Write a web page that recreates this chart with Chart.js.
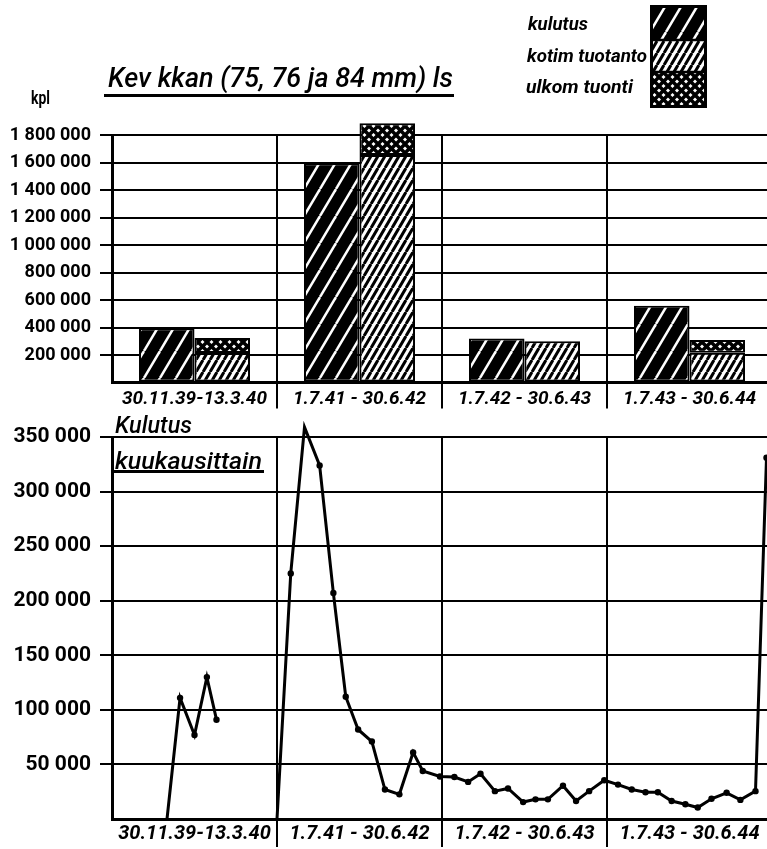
<!DOCTYPE html>
<html lang="fi">
<head>
<meta charset="utf-8">
<title>Kev kkan (75, 76 ja 84 mm) ls</title>
<script src="https://cdn.jsdelivr.net/npm/chart.js@4.4.1/dist/chart.umd.min.js"></script>
<style>
  html, body { margin: 0; padding: 0; background: #fff; overflow: hidden; }
  body { width: 767px; height: 849px; position: relative; font-family: Roboto, "DejaVu Sans", sans-serif; color: #000; }
  canvas { position: absolute; left: 0; }
  #ylakaavio { top: 0; }
  #alakaavio { top: 415px; }
  #selite { left: 650px; top: 5px; }
  .teksti { position: absolute; white-space: nowrap; line-height: 1; transform-origin: 0 0; }
  .viiva { position: absolute; background: #000; }
</style>
</head>
<body>
<canvas id="ylakaavio" width="780" height="415"></canvas>
<canvas id="alakaavio" width="780" height="434"></canvas>
<canvas id="selite" width="57" height="103"></canvas>

<div class="teksti" style="left:108px;top:64px;font-size:28px;font-style:italic;font-weight:500" data-w="345">Kev kkan (75, 76 ja 84 mm) ls</div>
<div class="viiva" style="left:104px;top:94px;width:350px;height:3px"></div>
<div class="teksti" style="left:31px;top:89px;font-size:18px;font-weight:bold" data-w="19">kpl</div>

<div class="teksti" style="left:528px;top:14px;font-size:19px;font-weight:bold;font-style:italic" data-w="60">kulutus</div>
<div class="teksti" style="left:527px;top:46px;font-size:19px;font-weight:bold;font-style:italic" data-w="120">kotim tuotanto</div>
<div class="teksti" style="left:526px;top:77px;font-size:19px;font-weight:bold;font-style:italic" data-w="107">ulkom tuonti</div>

<div class="teksti" style="left:115px;top:413px;font-size:24px;font-style:italic;font-weight:500" data-w="77">Kulutus</div>
<div class="teksti" style="left:115px;top:450px;font-size:23px;font-style:italic;font-weight:500" data-w="147">kuukausittain</div>
<div class="viiva" style="left:114px;top:470px;width:150px;height:3px"></div>

<script>
// --- data ---------------------------------------------------------------
const kaudet = ["30.11.39-13.3.40", "1.7.41 - 30.6.42", "1.7.42 - 30.6.43", "1.7.43 - 30.6.44"];
const kulutus = [395000, 1595000, 320000, 558000];
const kotimTuotanto = [215000, 1655000, 300000, 217000];
const ulkomTuonti = [108000, 230000, 0, 92000];

// kuukausittainen kulutus: x = kuukausia kaavion alusta (12 kk / jakso)
const talvisotaKk = [4.0, 4.95, 6.0, 6.9, 7.6];
const talvisotaKpl = [0, 111000, 77000, 130000, 91000];
const jatkosotaKk = [12.0, 13.0, 14.0, 15.1, 16.1, 17.0, 17.9, 18.9, 19.85, 20.9, 21.9, 22.6,
  23.85, 24.9, 25.9, 26.8, 27.85, 28.8, 29.9, 30.8, 31.7, 32.8, 33.75, 34.7,
  35.8, 36.8, 37.8, 38.8, 39.7, 40.7, 41.7, 42.6, 43.6, 44.7, 45.7, 46.8, 47.6];
const jatkosotaKpl = [0, 225000, 359000, 324000, 207000, 112000, 82000, 71000, 27000, 22600, 61000, 44000,
  39000, 38500, 34000, 41500, 25500, 28000, 15500, 18000, 18000, 30500, 16500, 25500,
  35500, 31500, 27000, 24500, 24500, 16500, 13500, 10500, 18500, 24000, 17500, 25500, 331000];

const ylaTicks = [0, 1800000, 200000];
const alaTicks = [0, 350000, 50000];

// --- apufunktiot ----------------------------------------------------------
const musta = "#000";
const tyhja = "rgba(0,0,0,0)";
const fmt = (v) => v === 0 ? "" : String(v).replace(/\B(?=(\d{3})+(?!\d))/g, " ");

function raidat(w, h, tausta, viiva, lw) {
  const c = document.createElement("canvas");
  c.width = w; c.height = h;
  const g = c.getContext("2d");
  g.fillStyle = tausta;
  g.fillRect(0, 0, w, h);
  g.strokeStyle = viiva;
  g.lineWidth = lw;
  for (let k = -1; k <= 1; k++) {
    g.beginPath();
    g.moveTo(k * w, h);
    g.lineTo(k * w + w, 0);
    g.stroke();
  }
  return g.createPattern(c, "repeat");
}

function ristikko(s, lw) {
  const c = document.createElement("canvas");
  c.width = s; c.height = s;
  const g = c.getContext("2d");
  g.fillStyle = "#fff";
  g.fillRect(0, 0, s, s);
  g.strokeStyle = musta;
  g.lineWidth = lw;
  for (let k = -1; k <= 1; k++) {
    g.beginPath(); g.moveTo(k * s, s); g.lineTo(k * s + s, 0); g.stroke();
    g.beginPath(); g.moveTo(k * s, 0); g.lineTo(k * s + s, s); g.stroke();
  }
  return g.createPattern(c, "repeat");
}

const kuvioKulutus = raidat(16, 27, musta, "#fff", 2.5);
const kuvioKotim = raidat(7, 12, "#fff", musta, 3);
const kuvioTuonti = ristikko(9, 3.5);

// --- selite ----------------------------------------------------------------
(function () {
  const g = document.getElementById("selite").getContext("2d");
  g.fillStyle = kuvioKulutus; g.fillRect(0, 0, 57, 35);
  g.fillStyle = kuvioKotim; g.fillRect(0, 35, 57, 32);
  g.fillStyle = kuvioTuonti; g.fillRect(0, 67, 57, 36);
  g.strokeStyle = musta;
  g.lineWidth = 2.5;
  g.beginPath(); g.moveTo(0, 35); g.lineTo(57, 35); g.moveTo(0, 67); g.lineTo(57, 67); g.stroke();
  g.lineWidth = 3;
  g.strokeRect(1.5, 1.5, 54, 100);
})();

Chart.defaults.font.family = "Roboto, 'DejaVu Sans', sans-serif";
Chart.defaults.color = musta;

// --- ylempi kaavio: pylväät ---------------------------------------------------
const palkki = { borderColor: musta, borderWidth: 2, borderSkipped: false, clip: false };

new Chart(document.getElementById("ylakaavio"), {
  type: "bar",
  data: {
    labels: kaudet,
    datasets: [
      { ...palkki, label: "kulutus", data: kulutus, backgroundColor: kuvioKulutus, stack: "k" },
      { ...palkki, label: "kotim tuotanto", data: kotimTuotanto, backgroundColor: kuvioKotim, stack: "t" },
      { ...palkki, label: "ulkom tuonti", data: ulkomTuonti, backgroundColor: kuvioTuonti, stack: "t" },
    ],
  },
  options: {
    responsive: false,
    animation: false,
    events: [],
    layout: { padding: { top: 135, right: 8, left: 0, bottom: 0 } },
    datasets: { bar: { categoryPercentage: 0.673, barPercentage: 1 } },
    plugins: { legend: { display: false }, tooltip: { enabled: false } },
    scales: {
      x: {
        stacked: true,
        afterFit: (s) => { s.height = 32.5; },
        grid: {
          offset: true, color: musta, lineWidth: 2, tickLength: 26,
          tickColor: (c) => c.index === 0 ? tyhja : musta,
        },
        border: { color: musta, width: 3 },
        ticks: {
          autoSkip: false, maxRotation: 0, minRotation: 0, padding: -21,
          font: { size: 19, weight: "bold", style: "italic" },
        },
      },
      y: {
        stacked: true,
        min: ylaTicks[0], max: ylaTicks[1],
        afterFit: (s) => { s.width = 112; },
        grid: {
          color: musta, lineWidth: 2, tickLength: 12,
          tickColor: (c) => c.tick && c.tick.value === 0 ? tyhja : musta,
        },
        border: { color: musta, width: 3 },
        ticks: {
          stepSize: ylaTicks[2], padding: 9, callback: fmt,
          font: { size: 18, weight: "bold" },
        },
      },
    },
  },
});

// --- alempi kaavio: kulutus kuukausittain -------------------------------------
const kuukausiViiva = (xs, ys) => ({
  label: "Kulutus",
  data: xs.map((x, i) => ({ x, y: ys[i] })),
  borderColor: musta,
  borderWidth: 3,
  backgroundColor: musta,
  pointBackgroundColor: musta,
  pointBorderWidth: 0,
  pointRadius: xs.map((x, i) => i === 0 ? 0 : 3.2),
  tension: 0,
  fill: false,
  clip: false,
});

const jaksoKeskella = { 6: kaudet[0], 18: kaudet[1], 30: kaudet[2], 42: kaudet[3] };

new Chart(document.getElementById("alakaavio"), {
  type: "line",
  data: {
    datasets: [
      kuukausiViiva(talvisotaKk, talvisotaKpl),
      kuukausiViiva(jatkosotaKk, jatkosotaKpl),
    ],
  },
  options: {
    responsive: false,
    animation: false,
    events: [],
    layout: { padding: { top: 22, right: 8, left: 0, bottom: 0 } },
    plugins: { legend: { display: false }, tooltip: { enabled: false } },
    scales: {
      x: {
        type: "linear",
        min: 0, max: 48,
        afterFit: (s) => { s.height = 30; },
        afterBuildTicks: (s) => {
          s.ticks = [0, 6, 12, 18, 24, 30, 36, 42, 48].map((v) => ({ value: v }));
        },
        grid: {
          lineWidth: 2, tickLength: 28,
          color: (c) => c.tick && c.tick.value % 12 === 0 ? musta : tyhja,
          tickColor: (c) => c.tick && [12, 24, 36].includes(c.tick.value) ? musta : tyhja,
        },
        border: { color: musta, width: 3 },
        ticks: {
          autoSkip: false, maxRotation: 0, minRotation: 0, padding: -25,
          callback: (v) => jaksoKeskella[v] || "",
          font: { size: 20, weight: "bold", style: "italic" },
        },
      },
      y: {
        min: alaTicks[0], max: alaTicks[1],
        afterFit: (s) => { s.width = 112; },
        grid: {
          color: musta, lineWidth: 2, tickLength: 12,
          tickColor: (c) => c.tick && c.tick.value === 0 ? tyhja : musta,
        },
        border: { color: musta, width: 3 },
        ticks: {
          stepSize: alaTicks[2], padding: 9, callback: fmt,
          font: { size: 21, weight: "bold" },
        },
      },
    },
  },
});

// tekstien leveys kuvan mukaiseksi
function sovita() {
  document.querySelectorAll("[data-w]").forEach((el) => {
    el.style.transform = "none";
    const w = el.getBoundingClientRect().width;
    if (w > 0) el.style.transform = "scaleX(" + (Number(el.dataset.w) / w) + ")";
  });
}
sovita();
if (document.fonts) document.fonts.ready.then(sovita);
</script>
</body>
</html>
